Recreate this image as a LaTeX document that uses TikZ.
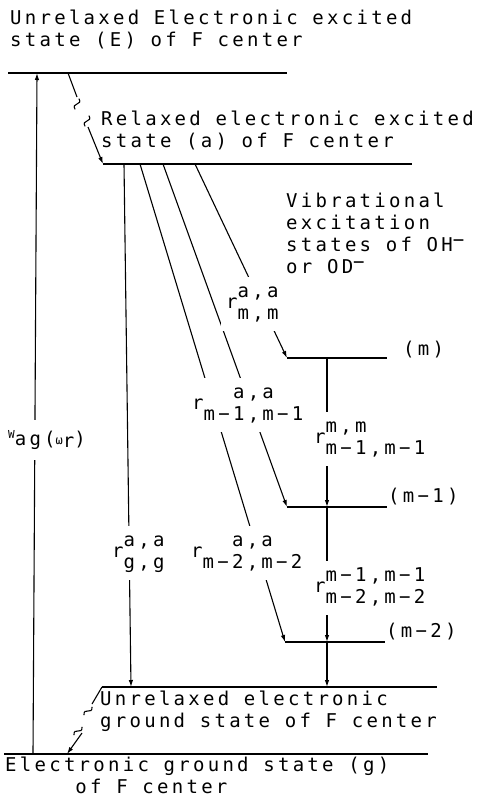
\documentclass[tikz,border=0pt]{standalone}
\usepackage{fontspec}
\newfontfamily\plotfont[LetterSpace=17.2]{DejaVu Sans Mono}
\usetikzlibrary{arrows.meta, positioning, calc}

% rate constant: r with stacked upper and lower indices
\newcommand{\rate}[3][c]{r\begin{tabular}[c]{@{}#1@{}}#2\\#3\end{tabular}}

\begin{document}
\begin{tikzpicture}[
    x=1pt, y=-1pt,
    >={Latex[length=7pt,width=4.5pt]},
    every node/.style={font=\plotfont\fontsize{19}{22}\selectfont, inner sep=0pt},
    level/.style={line width=1.4pt},
    trans/.style={line width=1.1pt, ->},
    relax/.style={line width=1.1pt},
    txt/.style={anchor=base west, align=left},
    rlab/.style={anchor=base west, fill=white, inner sep=5pt},
    wiggle/.pic={\draw[line width=1.1pt] (-5.5,1.5) .. controls (-2,-6) and (2,6) .. (5.5,-1.5);}
]
\useasboundingbox (0,0) rectangle (487,797);

% ==================== LEVELS ====================
\coordinate (E-l) at (8,73);    \coordinate (E-r) at (287,73);
\coordinate (a-l) at (103,164); \coordinate (a-r) at (412,164);
\coordinate (m-l) at (287,358); \coordinate (m-r) at (387,358);
\coordinate (m1-l) at (287,507); \coordinate (m1-r) at (387,507);
\coordinate (m2-l) at (285,642); \coordinate (m2-r) at (385,642);
\coordinate (u-l) at (102,687); \coordinate (u-r) at (437,687);
\coordinate (g-l) at (4,754);   \coordinate (g-r) at (428,754);
\foreach \lv in {E,a,m,m1,m2,u,g}
    \draw[level] (\lv-l) -- (\lv-r);

% ==================== RADIATIVE TRANSITIONS ====================
\coordinate (w-bot) at (33,754);  \coordinate (w-top) at (37,73);
\draw[trans] (w-bot) -- (w-top);

\coordinate (a0) at (124,164); \coordinate (u0) at (131,687);
\draw[trans] (a0) -- (u0);
\coordinate (a1) at (140,164);
\draw[trans] (a1) -- (m2-l);
\coordinate (a2) at (163,164);
\draw[trans] (a2) -- (m1-l);
\coordinate (a3) at (195,164);
\draw[trans] (a3) -- (m-l);

% ==================== VIBRATIONAL CASCADE ====================
\coordinate (vm) at (327,358);  \coordinate (vm1) at (327,507);
\coordinate (vm2) at (327,642); \coordinate (vu) at (327,687);
\draw[trans] (vm) -- (vm1);
\draw[trans] (vm1) -- (vm2);
\draw[trans] (vm2) -- (vu);

% ==================== RELAXATION ====================
\coordinate (rx1) at (68,73); \coordinate (rx2) at (77,97);
\coordinate (rx3) at (88,127);
\draw[relax] (rx1) -- (rx2);
\pic[rotate=55] at (77,104) {wiggle};
\pic[rotate=55] at (87,121) {wiggle};
\draw[trans] (rx3) -- (a-l);

\coordinate (ry1) at (92,704); \coordinate (ry2) at (82,733);
\coordinate (ry3) at (67,754);
\draw[relax] (u-l) -- (ry1);
\pic[rotate=30] at (88,711) {wiggle};
\pic[rotate=30] at (78,731) {wiggle};
\draw[trans] (ry2) -- (ry3);

% ==================== TEXT ====================
\node[txt] (Etxt) at (10,47) {Unrelaxed Electronic excited\\state (E) of F center};
\node[txt] (atxt) at (101,147) {Relaxed electronic excited\\state (a) of F center};
\node[txt] (vib) at (286,273) {Vibrational\\excitation\\states of OH\raisebox{.22em}{−}\\or OD\raisebox{.22em}{−}};
\node[txt] (mlab) at (403,355) {(m)};
\node[txt] (m1lab) at (388,502) {(m−1)};
\node[txt] (m2lab) at (386,637) {(m−2)};
\node[txt] (utxt) at (100,727) {Unrelaxed electronic\\ground state of F center};
\node[txt] (gtxt) at (5,793) {Electronic ground state (g)\\\phantom{Elect}of F center};

% ==================== RATES ====================
\node[rlab] (r-mm) at (221,308) {\rate{a,a}{m,m}};
\node[rlab] (r-m1) at (187,409) {\rate{a,a}{m−1,m−1}};
\node[rlab] (r-gg) at (107,557) {\rate{a,a}{g,g}};
\node[rlab] (r-m2) at (186,557) {\rate{a,a}{m−2,m−2}};
\node[rlab] (r-v1) at (309,443) {\rate[l]{m,m}{m−1,m−1}};
\node[rlab] (r-v2) at (309,592) {\rate[l]{m−1,m−1}{m−2,m−2}};
\node[rlab, inner xsep=2pt, inner ysep=11pt] (wag) at (6,445)
    {\raisebox{.32em}{\fontsize{11}{11}\selectfont W}ag(\raisebox{.05em}{\fontsize{12}{12}\selectfont ω}\raisebox{-.12em}{r})};

\end{tikzpicture}
\end{document}
